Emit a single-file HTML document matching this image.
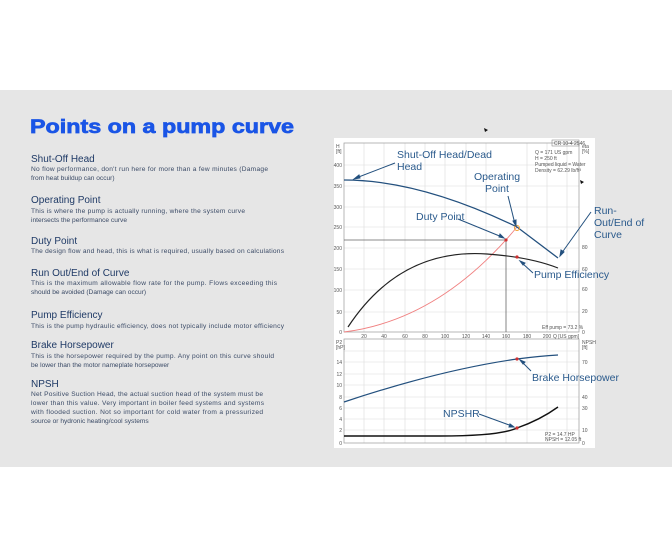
<!DOCTYPE html>
<html><head><meta charset="utf-8"><style>
html,body{margin:0;padding:0;background:#fff;}
svg{display:block;font-family:"Liberation Sans",sans-serif;}
.h{font-size:10px;fill:#1f3a66;}
.b{font-size:6.6px;fill:#3a4a66;}
.a{font-size:10.5px;fill:#2a5a8c;}
.t{font-size:5px;fill:#555;}
.g{stroke:#dcdcdc;stroke-width:0.6;}
</style></head><body>
<svg width="672" height="558" viewBox="0 0 672 558" xmlns="http://www.w3.org/2000/svg">
<rect x="0" y="90" width="672" height="377" fill="#e6e6e6"/>
<text x="30" y="133" font-size="19" font-weight="bold" fill="#1a55e6" stroke="#1a55e6" stroke-width="0.7" textLength="264" lengthAdjust="spacingAndGlyphs">Points on a pump curve</text>

<text class="h" x="31" y="162">Shut-Off Head</text>
<text class="b" x="31" y="171" textLength="237">No flow performance, don't run here for more than a few minutes (Damage</text>
<text class="b" x="31" y="180">from heat buildup can occur)</text>

<text class="h" x="31" y="203">Operating Point</text>
<text class="b" x="31" y="213" textLength="214">This is where the pump is actually running,  where the system curve</text>
<text class="b" x="31" y="222">intersects the performance curve</text>

<text class="h" x="31" y="244">Duty Point</text>
<text class="b" x="31" y="253" textLength="253">The design flow and head, this is what is required, usually based on calculations</text>

<text class="h" x="31" y="276">Run Out/End of Curve</text>
<text class="b" x="31" y="285" textLength="246">This is the maximum allowable flow rate for the pump.   Flows exceeding this</text>
<text class="b" x="31" y="294">should be avoided (Damage can occur)</text>

<text class="h" x="31" y="318">Pump Efficiency</text>
<text class="b" x="31" y="328" textLength="253">This is the pump hydraulic efficiency, does not typically include motor efficiency</text>

<text class="h" x="31" y="348">Brake Horsepower</text>
<text class="b" x="31" y="358" textLength="243">This is the horsepower required by the pump.  Any point on this curve should</text>
<text class="b" x="31" y="367">be lower than the motor nameplate horsepower</text>

<text class="h" x="31" y="387">NPSH</text>
<text class="b" x="31" y="396" textLength="232">Net Positive Suction Head, the actual suction head of the system must be</text>
<text class="b" x="31" y="405" textLength="233">lower than this value.  Very important in boiler feed systems and systems</text>
<text class="b" x="31" y="414" textLength="232">with flooded suction.  Not so important for cold water from a pressurized</text>
<text class="b" x="31" y="423">source or hydronic heating/cool systems</text>

<path d="M484 128 l4 2 l-3 2 z" fill="#111"/>

<rect x="334" y="138" width="261" height="310" fill="#fff"/>
<g class="g">
<line x1="364" y1="143" x2="364" y2="332"/><line x1="384" y1="143" x2="384" y2="332"/><line x1="405" y1="143" x2="405" y2="332"/><line x1="425" y1="143" x2="425" y2="332"/><line x1="445" y1="143" x2="445" y2="332"/><line x1="466" y1="143" x2="466" y2="332"/><line x1="486" y1="143" x2="486" y2="332"/><line x1="527" y1="143" x2="527" y2="332"/><line x1="547" y1="143" x2="547" y2="332"/><line x1="567" y1="143" x2="567" y2="332"/>
<line x1="344" y1="312" x2="579" y2="312"/><line x1="344" y1="290" x2="579" y2="290"/><line x1="344" y1="269" x2="579" y2="269"/><line x1="344" y1="248" x2="579" y2="248"/><line x1="344" y1="227" x2="579" y2="227"/><line x1="344" y1="207" x2="579" y2="207"/><line x1="344" y1="186" x2="579" y2="186"/><line x1="344" y1="165" x2="579" y2="165"/>
</g>
<rect x="344" y="143" width="235" height="189" fill="none" stroke="#999" stroke-width="0.7"/>
<g class="g">
<line x1="364" y1="339" x2="364" y2="443"/><line x1="384" y1="339" x2="384" y2="443"/><line x1="405" y1="339" x2="405" y2="443"/><line x1="425" y1="339" x2="425" y2="443"/><line x1="445" y1="339" x2="445" y2="443"/><line x1="466" y1="339" x2="466" y2="443"/><line x1="486" y1="339" x2="486" y2="443"/><line x1="506" y1="339" x2="506" y2="443"/><line x1="527" y1="339" x2="527" y2="443"/><line x1="547" y1="339" x2="547" y2="443"/><line x1="567" y1="339" x2="567" y2="443"/>
<line x1="344" y1="430" x2="579" y2="430"/><line x1="344" y1="419" x2="579" y2="419"/><line x1="344" y1="408" x2="579" y2="408"/><line x1="344" y1="397" x2="579" y2="397"/><line x1="344" y1="385" x2="579" y2="385"/><line x1="344" y1="374" x2="579" y2="374"/><line x1="344" y1="362" x2="579" y2="362"/><line x1="344" y1="351" x2="579" y2="351"/>
</g>
<rect x="344" y="339" width="235" height="104" fill="none" stroke="#999" stroke-width="0.7"/>
<g class="t" text-anchor="end">
<text x="342" y="334">0</text><text x="342" y="314">50</text><text x="342" y="292">100</text><text x="342" y="271">150</text><text x="342" y="250">200</text><text x="342" y="229">250</text><text x="342" y="209">300</text><text x="342" y="188">350</text><text x="342" y="167">400</text>
<text x="342" y="445">0</text><text x="342" y="432">2</text><text x="342" y="421">4</text><text x="342" y="410">6</text><text x="342" y="399">8</text><text x="342" y="387">10</text><text x="342" y="376">12</text><text x="342" y="364">14</text>
</g>
<g class="t" text-anchor="middle">
<text x="364" y="338">20</text><text x="384" y="338">40</text><text x="405" y="338">60</text><text x="425" y="338">80</text><text x="445" y="338">100</text><text x="466" y="338">120</text><text x="486" y="338">140</text><text x="506" y="338">160</text><text x="527" y="338">180</text><text x="547" y="338">200</text><text x="566" y="338">Q [US gpm]</text>
</g>
<g class="t">
<text x="582" y="291">60</text><text x="582" y="271">60</text><text x="582" y="249">80</text><text x="582" y="313">20</text><text x="582" y="334">0</text>
<text x="582" y="364">70</text><text x="582" y="399">40</text><text x="582" y="410">30</text><text x="582" y="432">10</text><text x="582" y="445">0</text>
<text x="336" y="148">H</text><text x="336" y="153">[ft]</text><text x="582" y="148">eta</text><text x="582" y="153">[%]</text>
<text x="336" y="344">P2</text><text x="336" y="349">[hP]</text><text x="582" y="344">NPSH</text><text x="582" y="349">[ft]</text>
<text x="535" y="154">Q = 171 US gpm</text><text x="535" y="160">H = 250 ft</text><text x="535" y="166">Pumped liquid = Water</text><text x="535" y="172">Density = 62.29 lb/ft³</text>
<text x="542" y="329">Eff pump = 73.2 %</text>
<text x="545" y="436">P2 = 14.7 HP</text><text x="545" y="441">NPSH = 12.05 ft</text>
</g>
<rect x="552" y="140" width="27" height="6" fill="none" stroke="#777" stroke-width="0.5"/>
<text class="t" x="554" y="145">CR 10-4 2546</text>

<polyline points="344,240 506,240 506,332" fill="none" stroke="#666" stroke-width="0.8"/>
<path d="M344 332 Q440 320 517 227" fill="none" stroke="#f08080" stroke-width="0.9"/>
<path d="M344 180 Q420 180 517 227 L558 258" fill="none" stroke="#23507e" stroke-width="1.3"/>
<path d="M348 327 Q400 248 487 254 Q530 257 558 268" fill="none" stroke="#222" stroke-width="1.2"/>
<path d="M344 402 Q440 370 517 359 Q540 356 558 355" fill="none" stroke="#23507e" stroke-width="1.2"/>
<path d="M344 436 L440 436 Q500 436 517 428 Q540 420 558 407" fill="none" stroke="#111" stroke-width="1.4"/>
<circle cx="517" cy="228" r="2.5" fill="none" stroke="#f0a030" stroke-width="1"/>
<circle cx="506" cy="240" r="1.6" fill="#d03030"/>
<circle cx="517" cy="257" r="1.6" fill="#d03030"/>
<circle cx="517" cy="359" r="1.6" fill="#d03030"/>
<circle cx="517" cy="428" r="1.6" fill="#d03030"/>
<path d="M580 180 l4 2 l-3 2 z" fill="#111"/>

<g class="a">
<text x="397" y="158">Shut-Off Head/Dead</text><text x="397" y="170">Head</text>
<text x="474" y="180">Operating</text><text x="485" y="192">Point</text>
<text x="416" y="220">Duty Point</text>
<text x="594" y="214">Run-</text><text x="594" y="226">Out/End of</text><text x="594" y="238">Curve</text>
<text x="534" y="278">Pump Efficiency</text>
<text x="532" y="381">Brake Horsepower</text>
<text x="443" y="417">NPSHR</text>
</g>
<g stroke="#23507e" stroke-width="1" fill="#23507e">
<line x1="395" y1="163" x2="356" y2="178"/><path d="M354 179 l5 -4 l1 3 z"/>
<line x1="508" y1="196" x2="515" y2="224"/><path d="M516 226 l-3 -5 l3 -1 z"/>
<line x1="458" y1="219" x2="502" y2="237"/><path d="M504 238 l-5 -1 l1 -3 z"/>
<line x1="591" y1="212" x2="561" y2="254"/><path d="M560 256 l1 -6 l3 2 z"/>
<line x1="533" y1="273" x2="522" y2="263"/><path d="M520 261 l5 2 l-2 2 z"/>
<line x1="531" y1="371" x2="522" y2="362"/><path d="M520 360 l5 2 l-2 2 z"/>
<line x1="479" y1="414" x2="512" y2="426"/><path d="M514 427 l-5 0 l1 -3 z"/>
</g>
</svg>
</body></html>
